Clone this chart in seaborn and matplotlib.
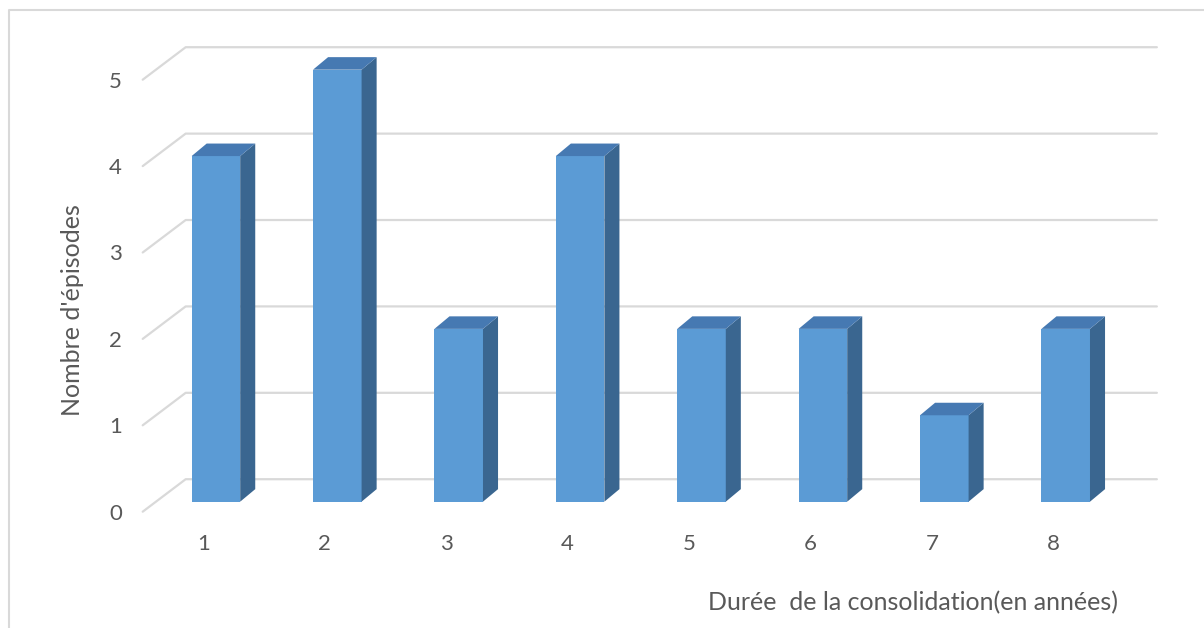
import matplotlib
matplotlib.use("Agg")
import matplotlib.pyplot as plt
import seaborn as sns
import pandas as pd
from matplotlib.patches import Polygon
from matplotlib.lines import Line2D

# === données ===
durees = ["1", "2", "3", "4", "5", "6", "7", "8"]
episodes = [4, 5, 2, 4, 2, 2, 1, 2]
y_ticks = [0, 1, 2, 3, 4, 5]

x_title = "Durée  de la consolidation(en années)"
y_title = "Nombre d'épisodes"

# couleurs façon Excel 3D
c_face = "#5b9bd5"
c_side = "#3a6690"
c_top = "#4679b2"
c_grid = "#d9d9d9"
c_text = "#595959"

# géométrie pseudo-3D (en unités de données)
wall_dx, wall_dy = 0.354, 0.376    # décalage du mur du fond
bar_dx, bar_dy = 0.103, 0.116      # décalage de la face avant des barres
deep_dx, deep_dy = 0.124, 0.145    # profondeur des barres
bar_w = 0.4

sns.set_style("white")
plt.rcParams["font.family"] = ["Lato", "DejaVu Sans"]

fig = plt.figure(figsize=(12.04, 6.28), dpi=100)
n = len(durees)
ax = fig.add_axes([142.7 / 1204, (628 - 511.7) / 628,
                   (n + wall_dx) * 121.4 / 1204, 5.5 * 86.4 / 628])

df = pd.DataFrame({"duree": durees, "episodes": episodes})
sns.barplot(data=df, x="duree", y="episodes", color=c_face, saturation=1,
            width=bar_w, ax=ax, zorder=3)

# lignes de grille : du plan avant vers le mur du fond
for v in y_ticks:
    ax.plot([-0.5, -0.5 + wall_dx, n - 0.5 + wall_dx],
            [v, v + wall_dy, v + wall_dy],
            color=c_grid, lw=1.6, zorder=0, clip_on=False)

# faces avant décalées + côtés + dessus
for p, h in zip(ax.patches, episodes):
    p.set_x(p.get_x() + bar_dx)
    p.set_y(bar_dy)
    p.set_linewidth(0)
    x0 = p.get_x()
    x1 = x0 + p.get_width()
    y0 = bar_dy
    y1 = bar_dy + h
    side = Polygon([(x1, y0), (x1 + deep_dx, y0 + deep_dy),
                    (x1 + deep_dx, y1 + deep_dy), (x1, y1)],
                   closed=True, facecolor=c_side, lw=0, zorder=3)
    top = Polygon([(x0, y1), (x1, y1), (x1 + deep_dx, y1 + deep_dy),
                   (x0 + deep_dx, y1 + deep_dy)],
                  closed=True, facecolor=c_top, lw=0, zorder=3)
    ax.add_patch(side)
    ax.add_patch(top)

ax.set_xlim(-0.5, n - 0.5 + wall_dx)
ax.set_ylim(0, 5.5)
ax.set_yticks(y_ticks)
ax.set_yticklabels([str(t) for t in y_ticks])
ax.set_xlabel("")
ax.set_ylabel("")
ax.tick_params(axis="y", length=0, pad=15, labelsize=16, labelcolor=c_text)
ax.tick_params(axis="x", length=0, pad=16, labelsize=16, labelcolor=c_text)
for s in ax.spines.values():
    s.set_visible(False)
ax.patch.set_alpha(0)

fig.text(72 / 1204, 1 - 310 / 628, y_title, rotation=90, ha="center",
         va="center", fontsize=18, color=c_text)
fig.text(913 / 1204, 1 - 603 / 628, x_title, ha="center", va="center",
         fontsize=18, color=c_text)

# bordure de la zone graphique (haut et gauche)
fig.add_artist(Line2D([9 / 1204, 9 / 1204, 1], [0, 1 - 10 / 628, 1 - 10 / 628],
                      transform=fig.transFigure, color=c_grid, lw=1.5))

fig.savefig("out.png", dpi=100)
